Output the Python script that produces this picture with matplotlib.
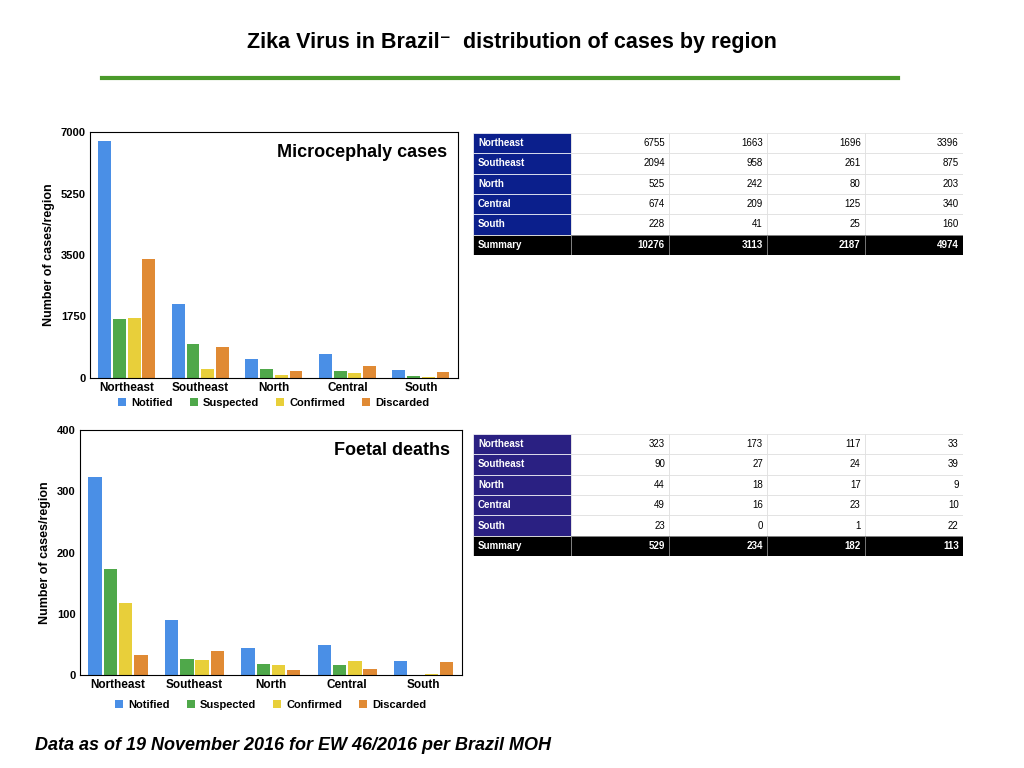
import matplotlib.pyplot as plt
import numpy as np
from matplotlib.patches import Rectangle

plt.rcParams["font.family"] = ["Liberation Sans", "DejaVu Sans"]

regions = ["Northeast", "Southeast", "North", "Central", "South"]
series = ["Notified", "Suspected", "Confirmed", "Discarded"]
colors = ["#4a8fe6", "#4fa84a", "#e8cf3a", "#e08a34"]

micro = {
    "Notified": [6755, 2094, 525, 674, 228],
    "Suspected": [1663, 958, 242, 209, 41],
    "Confirmed": [1696, 261, 80, 125, 25],
    "Discarded": [3396, 875, 203, 340, 160],
}
micro_sum = [10276, 3113, 2187, 4974]

foetal = {
    "Notified": [323, 90, 44, 49, 23],
    "Suspected": [173, 27, 18, 16, 0],
    "Confirmed": [117, 24, 17, 23, 1],
    "Discarded": [33, 39, 9, 10, 22],
}
foetal_sum = [529, 234, 182, 113]

fig = plt.figure(figsize=(10.24, 7.68), dpi=100)
fig.text(0.5, 0.945, "Zika Virus in Brazil\u207b  distribution of cases by region",
         ha="center", va="center", fontsize=15.5, fontweight="bold")
fig.add_artist(plt.Line2D([0.1, 0.877], [0.898, 0.898], color="#4a9a2a", lw=3))


def bar_chart(rect, data, ymax, ticks, title, legend_y):
    ax = fig.add_axes(rect)
    x = np.arange(len(regions))
    step = 0.2
    for i, s in enumerate(series):
        ax.bar(x + (i - 1.5) * step, data[s], 0.175, color=colors[i], label=s)
    ax.set_xlim(-0.5, 4.5)
    ax.set_ylim(0, ymax)
    ax.set_yticks(ticks)
    ax.set_yticklabels([str(t) for t in ticks], fontsize=8, fontweight="bold")
    ax.set_xticks(x)
    ax.set_xticklabels(regions, fontsize=8.5, fontweight="bold")
    ax.tick_params(length=0, pad=3)
    ax.set_ylabel("Number of cases/region", fontsize=9, fontweight="bold")
    ax.text(0.97, 0.95, title, transform=ax.transAxes, ha="right", va="top",
            fontsize=13, fontweight="bold")
    fig.legend(*ax.get_legend_handles_labels(), loc="center",
               bbox_to_anchor=(rect[0] + rect[2] / 2, legend_y), ncol=4,
               frameon=False, prop={"size": 8, "weight": "bold"},
               handlelength=0.7, handleheight=0.7, columnspacing=1.5, handletextpad=0.5)
    return ax


bar_chart([0.088, 0.508, 0.359, 0.320], micro, 7000, [0, 1750, 3500, 5250, 7000],
          "Microcephaly cases", 0.475)
bar_chart([0.078, 0.121, 0.373, 0.319], foetal, 400, [0, 100, 200, 300, 400],
          "Foetal deaths", 0.082)


def table(rect, data, sums, head_color):
    ax = fig.add_axes(rect)
    ax.set_xlim(0, 1)
    ax.set_ylim(0, 6)
    ax.axis("off")
    first = 0.2
    cw = (1 - first) / 4
    for r, reg in enumerate(regions + ["Summary"]):
        y = 5 - r
        last = reg == "Summary"
        ax.add_patch(Rectangle((0, y), first, 1, color="black" if last else head_color, ec="white", lw=0.5))
        ax.text(0.01, y + 0.5, reg, color="white", fontsize=7, fontweight="bold", va="center")
        for c, s in enumerate(series):
            val = sums[c] if last else data[s][r]
            x0 = first + c * cw
            ax.add_patch(Rectangle((x0, y), cw, 1, fc="black" if last else "white",
                                   ec="#888888" if last else "#dddddd", lw=0.5))
            ax.text(x0 + cw - 0.008, y + 0.5, str(val), ha="right", va="center", fontsize=7,
                    color="white" if last else "black", fontweight="bold" if last else "normal")


table([0.462, 0.668, 0.478, 0.159], micro, micro_sum, "#0b1f8c")
table([0.462, 0.276, 0.478, 0.159], foetal, foetal_sum, "#2a2082")

fig.text(0.034, 0.023, "Data as of 19 November 2016 for EW 46/2016 per Brazil MOH",
         fontsize=13, fontweight="bold", style="italic")

plt.savefig("out.png", dpi=100)
